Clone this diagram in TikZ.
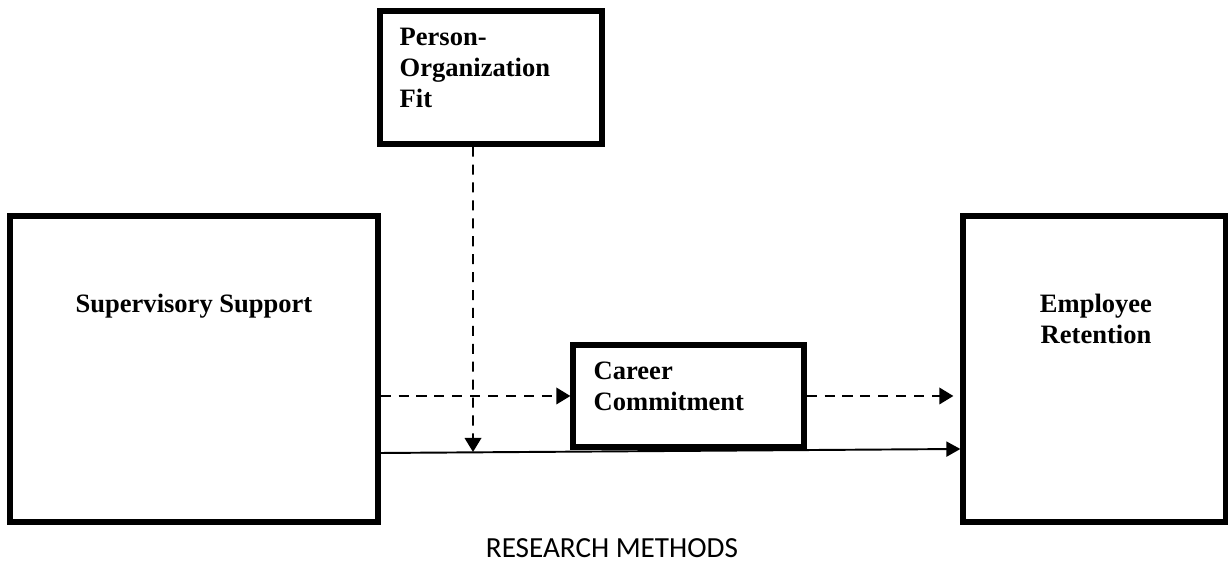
\documentclass[tikz,border=0pt]{standalone}
\usepackage{fontspec}
\setmainfont{Liberation Serif}
\newfontfamily\captionfont{Carlito}
\usetikzlibrary{arrows.meta,positioning}

\tikzset{
  block/.style={draw, line width=3pt, inner sep=0pt},
  blocktext/.style={font=\fontsize{15.1}{17.6}\selectfont\bfseries, inner sep=0pt},
  dasharrow/.style={line width=1.1pt, dash pattern=on 5.7pt off 4.5pt,
    -{Triangle[length=0.28cm,width=0.33cm]}},
  linearrow/.style={line width=1.1pt, -{Triangle[length=0.28cm,width=0.3cm]}}
}

\begin{document}
\begin{tikzpicture}
  \useasboundingbox (0,0) rectangle (24.56,11.24);

  % Boxes
  \node[block, minimum width=7.36cm, minimum height=6.12cm] (sup) at (3.88,3.86) {};
  \node[block, minimum width=5.26cm, minimum height=6.12cm] (emp) at (21.89,3.86) {};
  \node[block, minimum width=4.44cm, minimum height=2.66cm] (pofit) at (9.82,9.69) {};
  \node[block, minimum width=4.62cm, minimum height=2.04cm] (career) at (13.77,3.32) {};

  % Box labels (base = last line)
  \node[blocktext, anchor=base] (supname) at ([yshift=-1.98cm]sup.north) {Supervisory Support};
  \node[blocktext, anchor=base, align=center] (empname) at ([xshift=0.03cm,yshift=-2.6cm]emp.north) {Employee\\Retention};
  \node[blocktext, anchor=base west, align=left] (poname) at ([xshift=0.44cm,yshift=-1.98cm]pofit.north west) {Person-\\Organization\\Fit};
  \node[blocktext, anchor=base west, align=left] (careername) at ([xshift=0.46cm,yshift=-1.36cm]career.north west) {Career\\Commitment};

  % Paths between the boxes
  \draw[dasharrow] (sup.east |- career.west) -- (career.west);
  \draw[dasharrow, shorten >=0.14cm] (career.east) -- (career.east -| emp.west);
  \draw[linearrow] ([yshift=-1.68cm]sup.east) -- ([yshift=-1.6cm]emp.west);

  % Moderator arrow down onto the direct path
  \coordinate (meet) at (9.46,2.2);
  \draw[dasharrow] ([xshift=-0.36cm]pofit.south) -- (meet);

  % Caption
  \node[font=\captionfont\fontsize{16.6}{19}\selectfont, anchor=base, inner sep=0pt] (caption) at (12.24,0.09) {RESEARCH METHODS};
\end{tikzpicture}
\end{document}
